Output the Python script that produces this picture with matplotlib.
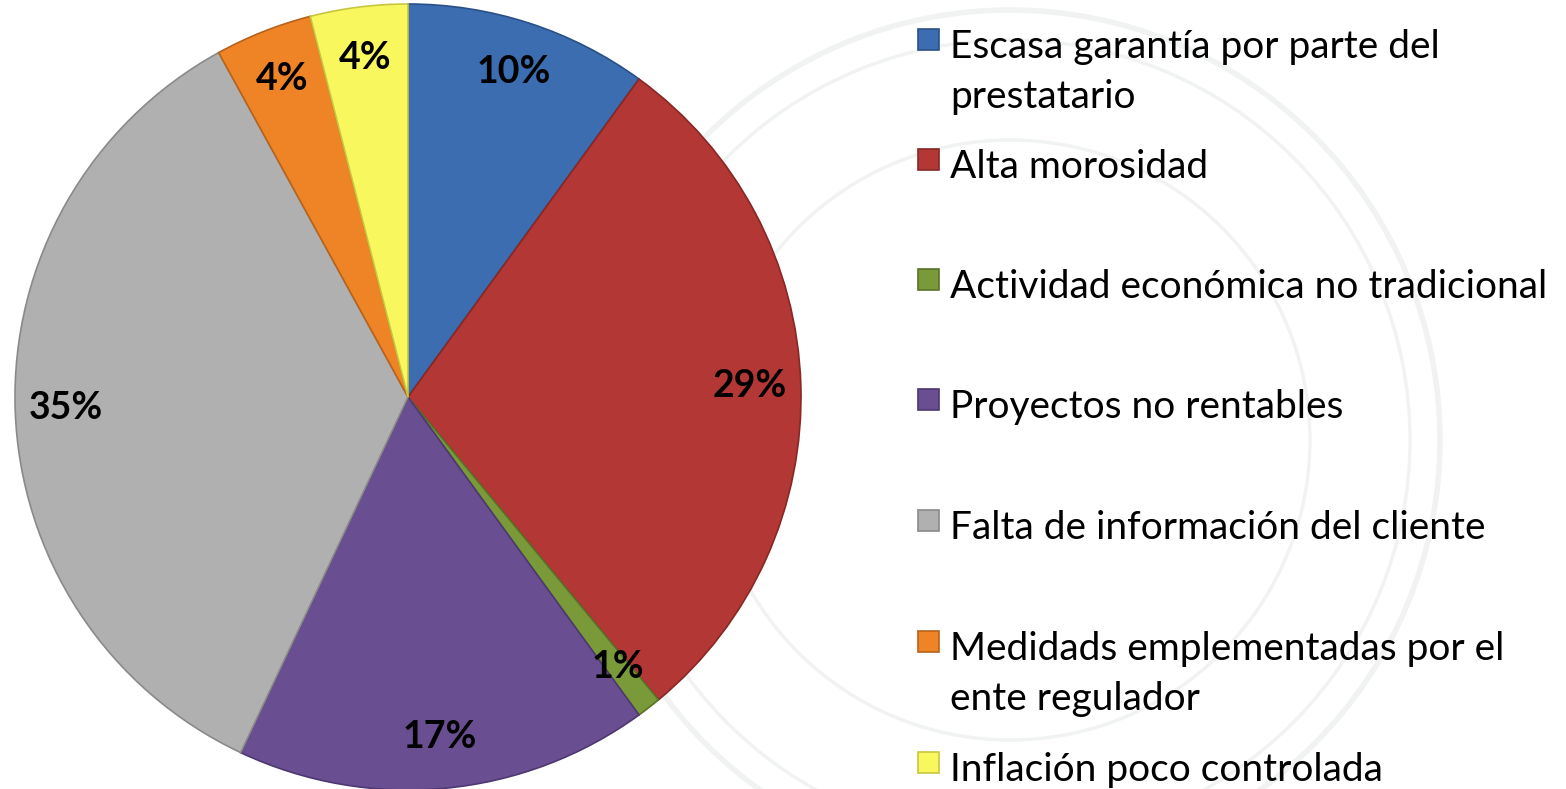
import matplotlib
matplotlib.use("Agg")
import matplotlib.pyplot as plt
from matplotlib.patches import Rectangle, Circle

# data
labels = ["Escasa garantía por parte del\nprestatario",
          "Alta morosidad",
          "Actividad económica no tradicional",
          "Proyectos no rentables",
          "Falta de información del cliente",
          "Medidads emplementadas por el\nente regulador",
          "Inflación poco controlada"]
values = [10, 29, 1, 17, 35, 4, 4]
colors = ["#3b6db0", "#b23735", "#7a9a3a", "#6a4e92", "#b0b0b0", "#ee8426", "#f9f75e"]
edges = ["#2a5088", "#862826", "#5a7228", "#4d3870", "#8a8a8a", "#b8621a", "#c8c640"]

W, H = 1566, 789
fig = plt.figure(figsize=(W / 100, H / 100), dpi=100)
fig.patch.set_facecolor("white")

# faint watermark seal behind legend
wm = fig.add_axes([0, 0, 1, 1])
wm.set_xlim(0, W)
wm.set_ylim(H, 0)
wm.axis("off")
for r, lw in [(430, 4), (400, 2.5), (300, 2.5)]:
    wm.add_patch(Circle((1010, 440), r, fill=False, ec="#f1f3f3", lw=lw))

# pie: centre at (408, 397) px, radius 393 px
R = 393.0
ax = fig.add_axes([0, 0, 816 / W, 1])
ax.pie(values, colors=colors, startangle=90, counterclock=False,
       autopct="%1.0f%%", pctdistance=0.87,
       wedgeprops=dict(linewidth=1.2, edgecolor="#555555"),
       textprops=dict(fontsize=27, fontweight="bold", family="Lato", color="black"))
for w, ec in zip(ax.patches, edges):
    w.set_edgecolor(ec)
ax.set_xlim(-408 / R, 408 / R)
ax.set_ylim(-(H - 397) / R, 397 / R)
ax.set_aspect("auto")
ax.axis("off")

# legend, placed by hand like the original layout
base_y = [58, 178, 298, 418, 539, 660, 781]
line_gap = 50
for lab, c, ec, y in zip(labels, colors, edges, base_y):
    for i, line in enumerate(lab.split("\n")):
        fig.text(950 / W, 1 - (y + i * line_gap) / H, line, fontsize=28, family="Lato",
                 va="baseline", ha="left", color="black")
    fig.patches.append(Rectangle((918 / W, 1 - (y - 8) / H), 21 / W, 21 / H,
                                 transform=fig.transFigure, facecolor=c,
                                 edgecolor=ec, lw=1.2))

fig.savefig("out.png", dpi=100, facecolor="white")
